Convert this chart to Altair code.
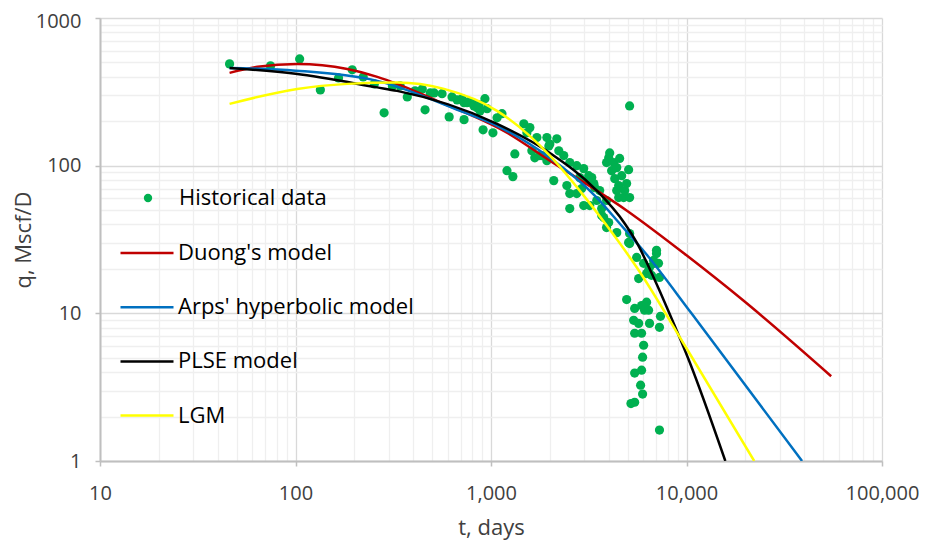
import altair as alt
import pandas as pd

# ---------------- data ----------------
hist_t = [46, 74.5, 105, 134, 166, 195, 222, 253, 284, 313, 343, 373, 409, 445, 460,
          489, 512, 562, 611, 632, 671, 711, 728, 728, 754, 773, 800, 818, 848, 869,
          879, 911, 931, 955, 1023, 1074, 1138, 1207, 1294, 1324, 1472, 1526, 1581,
          1618, 1675, 1716, 1778, 1820, 1931, 1931, 1977, 2000, 2094, 2171, 2222,
          2356, 2443, 2528, 2528, 2528, 2746, 2746, 2845, 2912, 2980, 2980, 3087,
          3162, 3199, 3275, 3356, 3393, 3475, 3597, 3683, 3683, 3773, 3900, 3900,
          3900, 4000, 4000, 4047, 4140, 4245, 4295, 4397, 4397, 4397, 4500, 4500,
          4550, 4660, 4771, 4830, 4940, 5057, 5057, 5117, 5117, 5117, 5117, 5560,
          6034, 6471, 7025, 6866, 5690, 6250, 6397, 6784, 7190, 7025, 6622, 7274,
          4940, 5430, 5891, 6250, 6103, 6397, 5366, 5690, 6471, 7274, 7360, 5430,
          5891, 6034, 5963, 5430, 5891, 5824, 5963, 5200, 5430, 7274]
hist_q = [489, 474, 528, 326, 393, 446, 399, 358, 228, 347, 347, 292, 321, 331, 239,
          311, 311, 307, 214, 292, 279, 284, 205, 267, 267, 271, 267, 254, 247, 258,
          235, 175, 284, 243, 167, 211, 225, 92.5, 84.3, 120, 192, 167, 181,
          126, 113, 155, 117, 117, 155, 108, 136, 140, 79.2, 152, 126,
          117, 73.3, 105, 64.7, 51.2, 100, 64.7, 83, 70, 95.5, 53.7, 79.2,
          85.6, 53.7, 83, 75.6, 71, 58.1, 67.8, 51.2, 45.9, 44.5, 105, 58.1,
          38.1, 113, 41.2, 122, 92.5, 105, 81.7, 97, 67.8, 35.2, 73.3, 60.8,
          112, 85.6, 60.8, 67.8, 75.6, 94, 30.2, 60.8, 254, 34.7, 29.7, 23.9,
          21.8, 20.5, 25.4, 21.8, 17.2, 18.6, 19.5, 22.8, 21.8, 26.7, 18.1, 17.5,
          12.4, 10.8, 11.3, 11.9, 10.5, 10.5, 8.97, 8.55, 8.55, 8.04, 9.55, 7.33,
          7.33, 6.08, 5.05, 3.94, 4.12, 3.26, 2.84, 2.45, 2.5, 1.62]

duong_t = [46, 64, 102, 184, 262, 331, 530, 1207, 2000, 4940, 10000, 19540, 54950]
duong_q = [425, 467, 489, 452, 399, 358, 275, 167, 108, 49.7, 24.7, 12.2, 3.75]

arps_t = [46, 100, 262, 695, 1074, 2000, 3475, 4550, 6250, 10600, 39000]
arps_q = [459, 440, 375, 235, 186, 113, 60.8, 40.6, 25, 10, 1]

plse_t = [46, 100, 262, 331, 1074, 2000, 3475, 4830, 5560, 6790, 8100, 10360, 15800]
plse_q = [459, 419, 339, 321, 192, 122, 67.8, 40.6, 30.2, 17.5, 10.3, 4.7, 1]

lgm_t = [46, 102, 184, 331, 575, 1074, 2000, 2980, 3908, 5560, 10000, 22200]
lgm_q = [262, 331, 358, 366, 331, 235, 117, 62.7, 39.3, 20.5, 5.8, 1]

model_names = ["Duong's model", "Arps' hyperbolic model", "PLSE model", "LGM"]
model_colors = ["#c00000", "#0070c0", "#000000", "#ffff00"]
hist_name = "Historical data"
hist_color = "#00b050"

x_title = "t, days"
y_title = "q, Mscf/D"

# gridline positions (1..9 in each decade)
x_grid = [m * 10 ** k for k in range(1, 5) for m in range(1, 10)] + [100000]
y_grid = [m * 10 ** k for k in range(0, 3) for m in range(1, 10)] + [1000]

# ---------------- tables ----------------
hist_df = pd.DataFrame({"t": hist_t, "q": hist_q, "series": hist_name})
model_df = pd.concat([
    pd.DataFrame({"t": duong_t, "q": duong_q, "model": model_names[0], "o": 0}),
    pd.DataFrame({"t": arps_t, "q": arps_q, "model": model_names[1], "o": 1}),
    pd.DataFrame({"t": plse_t, "q": plse_q, "model": model_names[2], "o": 2}),
    pd.DataFrame({"t": lgm_t, "q": lgm_q, "model": model_names[3], "o": 3}),
], ignore_index=True)

FONT = "Open Sans"
major = "abs(log(datum.value)/LN10 - round(log(datum.value)/LN10)) < 0.0001"

xscale = alt.Scale(type="log", domain=[10, 100000], nice=False)
yscale = alt.Scale(type="log", domain=[1, 1000], nice=False)

x_axis = alt.Axis(
    values=x_grid, title=x_title, labelOverlap=False, labelFlush=False,
    labelExpr=f"({major}) ? format(datum.value, ',') : ''",
    gridColor={"condition": {"test": major, "value": "#d9d9d9"}, "value": "#efefef"},
    gridWidth=1.3,
    tickOpacity={"condition": {"test": major, "value": 1}, "value": 0},
    tickSize=5, tickColor="#bfbfbf", tickWidth=1.5,
    domainColor="#bfbfbf", domainWidth=2,
    labelFont=FONT, labelFontSize=20, labelColor="#404040", labelPadding=17,
    titleFont=FONT, titleFontSize=22, titleFontWeight="normal", titleColor="#404040",
    titlePadding=14,
)
y_axis = alt.Axis(
    values=y_grid, title=y_title, labelOverlap=False, labelFlush=False,
    labelExpr=f"({major}) ? format(datum.value, 'd') : ''",
    labelOffset={"condition": {"test": "datum.value >= 999", "value": 3}, "value": 0},
    gridColor={"condition": {"test": major, "value": "#d9d9d9"}, "value": "#efefef"},
    gridWidth=1.3,
    tickOpacity={"condition": {"test": major, "value": 1}, "value": 0},
    tickSize=5, tickColor="#bfbfbf", tickWidth=1.5,
    domainColor="#bfbfbf", domainWidth=2,
    labelFont=FONT, labelFontSize=20, labelColor="#404040", labelPadding=14,
    titleFont=FONT, titleFontSize=22, titleFontWeight="normal", titleColor="#404040",
    titlePadding=0,
)

points = alt.Chart(hist_df).mark_circle(size=85, opacity=1).encode(
    x=alt.X("t:Q", scale=xscale, axis=x_axis),
    y=alt.Y("q:Q", scale=yscale, axis=y_axis),
    fill=alt.Fill("series:N", scale=alt.Scale(domain=[hist_name], range=[hist_color]),
                  legend=alt.Legend(orient="none", legendX=37, legendY=169, title=None,
                                    padding=0, symbolType="circle", symbolSize=70,
                                    labelFont=FONT, labelFontSize=22, labelColor="#000000",
                                    labelOffset=20, labelLimit=0)),
)

lines = alt.Chart(model_df).mark_line(strokeWidth=2.5, interpolate="monotone", clip=True).encode(
    x=alt.X("t:Q", scale=xscale),
    y=alt.Y("q:Q", scale=yscale),
    stroke=alt.Stroke("model:N", sort=model_names,
                      scale=alt.Scale(domain=model_names, range=model_colors),
                      legend=alt.Legend(orient="none", legendX=19, legendY=207, title=None,
                                        padding=0, symbolType="stroke", symbolSize=2809,
                                        symbolStrokeWidth=2.5, rowPadding=15.2,
                                        labelFont=FONT, labelFontSize=22, labelLimit=0,
                                        labelColor="#000000", labelOffset=3)),
    order=alt.Order("o:Q"),
)

chart = alt.layer(points, lines).properties(
    width=782, height=443,
    autosize=alt.AutoSizeParams(type="none"),
    padding={"left": 92, "top": 10, "right": 37, "bottom": 79},
    background="white",
).configure_view(strokeWidth=0)

chart.save("out.html", embed_options={"renderer": "svg", "actions": False})
